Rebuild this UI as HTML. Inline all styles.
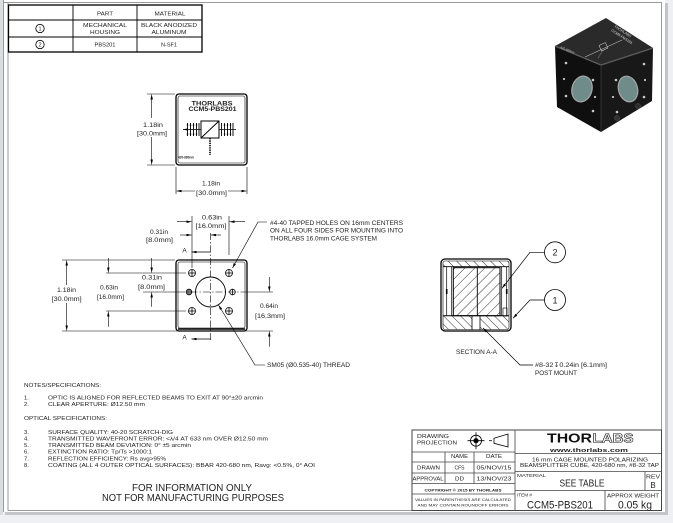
<!DOCTYPE html>
<html><head><meta charset="utf-8"><style>
html,body{margin:0;padding:0;background:#eef0f3;}
svg{display:block;}
text{font-family:"Liberation Sans","DejaVu Sans",sans-serif;fill:#222;}
</style></head><body>
<svg width="673" height="523" viewBox="0 0 673 523" xmlns="http://www.w3.org/2000/svg">
<defs>
<marker id="a" viewBox="0 0 8 4" refX="8" refY="2" markerWidth="5" markerHeight="2.5" markerUnits="userSpaceOnUse" orient="auto"><path d="M0,0L8,2L0,4z" fill="#000"/></marker>
<pattern id="hf" patternUnits="userSpaceOnUse" width="7" height="7" patternTransform="rotate(45)"><line x1="0" y1="0" x2="0" y2="7" stroke="#000" stroke-width="0.8"/></pattern>
<pattern id="hb" patternUnits="userSpaceOnUse" width="6" height="6" patternTransform="rotate(-45)"><line x1="0" y1="0" x2="0" y2="6" stroke="#000" stroke-width="0.8"/></pattern>
</defs>

<!-- page frame -->
<rect width="673" height="523" fill="#eef0f3"/>
<rect x="0" y="0" width="3" height="515" fill="#dcdde0"/>
<rect x="5" y="3" width="663" height="512" fill="#c4c5c8"/>
<rect x="3" y="0" width="662" height="512" fill="#fff"/>
<g stroke="#9a9a9a" stroke-width="1" fill="none">
<line x1="3" y1="2.5" x2="662" y2="2.5"/>
<line x1="3.5" y1="0" x2="3.5" y2="512"/>
<line x1="8" y1="2.5" x2="8" y2="510.5"/>
<line x1="661.5" y1="2.5" x2="661.5" y2="510.5"/>
<line x1="8" y1="510.5" x2="661.5" y2="510.5"/>
</g>

<!-- parts table -->
<g stroke="#000" fill="none">
<rect x="8.5" y="5" width="193.5" height="47" stroke-width="1.3"/>
<line x1="73" y1="5" x2="73" y2="52" stroke-width="0.9"/>
<line x1="137" y1="5" x2="137" y2="52" stroke-width="0.9"/>
<line x1="8.5" y1="20" x2="202" y2="20" stroke-width="0.9"/>
<line x1="8.5" y1="37" x2="202" y2="37" stroke-width="0.9"/>
<circle cx="40" cy="28.5" r="4.2" stroke-width="0.8"/>
<circle cx="40" cy="44.5" r="4.2" stroke-width="0.8"/>
</g>
<g font-size="5.8" text-anchor="middle">
<text x="105" y="15.5" textLength="16" lengthAdjust="spacingAndGlyphs">PART</text>
<text x="170" y="15.5" textLength="31" lengthAdjust="spacingAndGlyphs">MATERIAL</text>
<text x="105" y="27.2" textLength="44" lengthAdjust="spacingAndGlyphs">MECHANICAL</text>
<text x="105" y="33.9" textLength="30" lengthAdjust="spacingAndGlyphs">HOUSING</text>
<text x="169" y="27.2" textLength="56" lengthAdjust="spacingAndGlyphs">BLACK ANODIZED</text>
<text x="169" y="33.9" textLength="35" lengthAdjust="spacingAndGlyphs">ALUMINUM</text>
<text x="105" y="46.5" textLength="21" lengthAdjust="spacingAndGlyphs">PBS201</text>
<text x="169" y="46.5" textLength="16" lengthAdjust="spacingAndGlyphs">N-SF1</text>
<text x="40" y="30.6" font-size="5.5">1</text>
<text x="40" y="46.6" font-size="5.5">2</text>
</g>

<!-- TOP VIEW -->
<g stroke="#000" fill="none">
<rect x="176" y="94" width="71" height="71" rx="3" stroke-width="1.3"/>
<rect x="178" y="96" width="67" height="67" rx="2" stroke-width="0.6"/>
<rect x="201" y="121" width="18" height="17" stroke-width="1"/>
<line x1="201" y1="138" x2="219" y2="121" stroke-width="1"/>
<line x1="201" y1="129.5" x2="183" y2="129.5" stroke-width="0.8" marker-end="url(#a)"/>
<line x1="219" y1="129.5" x2="236" y2="129.5" stroke-width="0.8"/>
<g stroke-width="0.9">
<line x1="187.5" y1="123" x2="187.5" y2="136"/><line x1="190.5" y1="123" x2="190.5" y2="136"/><line x1="193.5" y1="123" x2="193.5" y2="136"/><line x1="196.5" y1="123" x2="196.5" y2="136"/><line x1="199" y1="123" x2="199" y2="136"/>
<line x1="221.5" y1="123" x2="221.5" y2="136"/><line x1="224.5" y1="123" x2="224.5" y2="136"/><line x1="227.5" y1="123" x2="227.5" y2="136"/><line x1="230.5" y1="123" x2="230.5" y2="136"/><line x1="233" y1="123" x2="233" y2="136"/>
</g>
<g fill="#000" stroke="none">
<circle cx="187.5" cy="125" r="0.8"/><circle cx="190.5" cy="125" r="0.8"/><circle cx="193.5" cy="125" r="0.8"/><circle cx="196.5" cy="125" r="0.8"/>
<circle cx="187.5" cy="134" r="0.8"/><circle cx="190.5" cy="134" r="0.8"/><circle cx="193.5" cy="134" r="0.8"/><circle cx="196.5" cy="134" r="0.8"/>
<circle cx="224.5" cy="125" r="0.8"/><circle cx="227.5" cy="125" r="0.8"/><circle cx="230.5" cy="125" r="0.8"/>
<circle cx="224.5" cy="134" r="0.8"/><circle cx="227.5" cy="134" r="0.8"/><circle cx="230.5" cy="134" r="0.8"/>
</g>
<line x1="210" y1="138" x2="210" y2="155" stroke-width="1.6" stroke-dasharray="1.4,0.9"/>
<!-- dims -->
<g stroke-width="0.6">
<line x1="147" y1="94" x2="175" y2="94"/>
<line x1="147" y1="165" x2="175" y2="165"/>
<line x1="151.7" y1="118" x2="151.7" y2="94.5" marker-end="url(#a)"/>
<line x1="151.7" y1="137" x2="151.7" y2="164.5" marker-end="url(#a)"/>
<line x1="176" y1="167" x2="176" y2="194"/>
<line x1="247" y1="167" x2="247" y2="194"/>
<line x1="195" y1="191" x2="176.5" y2="191" marker-end="url(#a)"/>
<line x1="228" y1="191" x2="246.5" y2="191" marker-end="url(#a)"/>
</g>
</g>
<text x="212" y="105.7" font-size="6.3" font-weight="bold" text-anchor="middle" textLength="41" lengthAdjust="spacingAndGlyphs">THORLABS</text>
<text x="212.5" y="111.2" font-size="6" font-weight="bold" text-anchor="middle" textLength="48" lengthAdjust="spacingAndGlyphs">CCM5-PBS201</text>
<text x="178" y="158.5" font-size="3.5" font-weight="bold" textLength="16" lengthAdjust="spacingAndGlyphs">420-680nm</text>
<g font-size="6.3" text-anchor="middle">
<text x="153" y="127.2" textLength="20" lengthAdjust="spacingAndGlyphs">1.18in</text>
<text x="152" y="135.5" textLength="30" lengthAdjust="spacingAndGlyphs">[30.0mm]</text>
<text x="211" y="185.5" textLength="18" lengthAdjust="spacingAndGlyphs">1.18in</text>
<text x="211.5" y="195" textLength="31" lengthAdjust="spacingAndGlyphs">[30.0mm]</text>
</g>

<!-- FRONT VIEW -->
<g stroke="#000" fill="none">
<rect x="176" y="260" width="71" height="71" rx="3" stroke-width="1.3"/>
<rect x="178" y="262" width="67" height="66" rx="2" stroke-width="0.6"/>
<line x1="178" y1="329" x2="245" y2="329" stroke-width="1.4"/>
<circle cx="210.5" cy="292" r="15" stroke-width="0.9"/>
<g stroke-width="0.8">
<circle cx="192" cy="273" r="3.5"/><line x1="188.5" y1="273" x2="195.5" y2="273"/><line x1="192" y1="269.5" x2="192" y2="276.5"/>
<circle cx="229" cy="273" r="3.5"/><line x1="225.5" y1="273" x2="232.5" y2="273"/><line x1="229" y1="269.5" x2="229" y2="276.5"/>
<circle cx="192" cy="311" r="3.5"/><line x1="188.5" y1="311" x2="195.5" y2="311"/><line x1="192" y1="307.5" x2="192" y2="314.5"/>
<circle cx="229" cy="311" r="3.5"/><line x1="225.5" y1="311" x2="232.5" y2="311"/><line x1="229" y1="307.5" x2="229" y2="314.5"/>
<circle cx="189" cy="292" r="2.8" fill="#777"/>
<circle cx="232.5" cy="292" r="2.8"/><line x1="232.5" y1="289.2" x2="232.5" y2="294.8"/>
</g>
<!-- centerlines -->
<line x1="210.5" y1="233" x2="210.5" y2="342" stroke-width="0.6" stroke-dasharray="7,2,1.5,2"/>
<line x1="143" y1="292" x2="178" y2="292" stroke-width="0.6"/>
<line x1="178" y1="292" x2="245" y2="292" stroke-width="0.6" stroke-dasharray="7,2,1.5,2"/>
<line x1="245" y1="292" x2="273" y2="292" stroke-width="0.6"/>
<!-- section arrows -->
<line x1="210.5" y1="252" x2="191.5" y2="252" stroke-width="0.8" marker-end="url(#a)"/>
<line x1="210.5" y1="339" x2="191.5" y2="339" stroke-width="0.8" marker-end="url(#a)"/>
<g stroke-width="0.6">
<!-- ext lines -->
<line x1="62" y1="260" x2="175" y2="260"/>
<line x1="62" y1="331" x2="273" y2="331"/>
<line x1="106" y1="273" x2="186" y2="273"/>
<line x1="106" y1="311" x2="186" y2="311"/>
<line x1="192" y1="216" x2="192" y2="268"/>
<line x1="229" y1="216" x2="229" y2="255"/>
<!-- dim lines -->
<line x1="66.7" y1="285" x2="66.7" y2="260.5" marker-end="url(#a)"/>
<line x1="66.7" y1="303" x2="66.7" y2="330.5" marker-end="url(#a)"/>
<line x1="108.3" y1="258" x2="108.3" y2="272.5" marker-end="url(#a)"/>
<line x1="108.3" y1="326.7" x2="108.3" y2="311.5" marker-end="url(#a)"/>
<line x1="151.7" y1="258" x2="151.7" y2="272.5" marker-end="url(#a)"/>
<line x1="151.7" y1="306.7" x2="151.7" y2="292.5" marker-end="url(#a)"/>
<line x1="269.3" y1="277" x2="269.3" y2="291.5" marker-end="url(#a)"/>
<line x1="269.3" y1="346.7" x2="269.3" y2="331.5" marker-end="url(#a)"/>
<line x1="177" y1="221.7" x2="191.5" y2="221.7" marker-end="url(#a)"/>
<line x1="245" y1="221.7" x2="229.5" y2="221.7" marker-end="url(#a)"/>
<line x1="180" y1="235" x2="191.5" y2="235" marker-end="url(#a)"/>
<line x1="221" y1="235" x2="211" y2="235" marker-end="url(#a)"/>
<!-- leaders -->
<polyline points="267,222 258,222 232.5,268" marker-end="url(#a)"/>
<polyline points="265,365 255,365 218.5,305" marker-end="url(#a)"/>
</g>
</g>
<g font-size="6.3" text-anchor="middle">
<text x="212" y="219.5" textLength="20" lengthAdjust="spacingAndGlyphs">0.63in</text>
<text x="211" y="228.2" textLength="31" lengthAdjust="spacingAndGlyphs">[16.0mm]</text>
<text x="159" y="234" textLength="18" lengthAdjust="spacingAndGlyphs">0.31in</text>
<text x="159.5" y="242.2" textLength="27" lengthAdjust="spacingAndGlyphs">[8.0mm]</text>
<text x="66.5" y="292.2" textLength="19" lengthAdjust="spacingAndGlyphs">1.18in</text>
<text x="66.7" y="301.2" textLength="30" lengthAdjust="spacingAndGlyphs">[30.0mm]</text>
<text x="109" y="289.5" textLength="18" lengthAdjust="spacingAndGlyphs">0.63in</text>
<text x="110.5" y="299" textLength="27" lengthAdjust="spacingAndGlyphs">[16.0mm]</text>
<text x="152" y="279.5" textLength="20" lengthAdjust="spacingAndGlyphs">0.31in</text>
<text x="151.5" y="289" textLength="27" lengthAdjust="spacingAndGlyphs">[8.0mm]</text>
<text x="269" y="308.2" textLength="18" lengthAdjust="spacingAndGlyphs">0.64in</text>
<text x="270" y="318.2" textLength="30" lengthAdjust="spacingAndGlyphs">[16.3mm]</text>
<text x="184.5" y="252.5" font-size="6.5">A</text>
<text x="184.5" y="339.5" font-size="6.5">A</text>
</g>
<g font-size="6">
<text x="270" y="225" textLength="133" lengthAdjust="spacingAndGlyphs">#4-40 TAPPED HOLES ON 16mm CENTERS</text>
<text x="270" y="232.5" textLength="133" lengthAdjust="spacingAndGlyphs">ON ALL FOUR SIDES FOR MOUNTING INTO</text>
<text x="270" y="240.5" textLength="107" lengthAdjust="spacingAndGlyphs">THORLABS 16.0mm CAGE SYSTEM</text>
<text x="267" y="367.2" textLength="83" lengthAdjust="spacingAndGlyphs">SM05 (Ø0.535-40) THREAD</text>
</g>

<!-- SECTION VIEW -->
<g stroke="#000" fill="none">
<rect x="443" y="261" width="66" height="6" fill="url(#hb)" stroke="none"/>
<rect x="443" y="316" width="66" height="13.5" fill="url(#hb)" stroke="none"/>
<rect x="472" y="316" width="8" height="14" fill="#fff" stroke="none"/>
<rect x="453.3" y="267.7" width="46.7" height="48" fill="url(#hf)" stroke-width="1"/>
<line x1="477.3" y1="267.7" x2="477.3" y2="315.7" stroke-width="0.9"/>
<rect x="441" y="259" width="70" height="72" rx="4" stroke-width="1.3"/>
<rect x="443" y="261" width="66" height="68.5" rx="2" stroke-width="0.6"/>
<line x1="443" y1="266.7" x2="509" y2="266.7" stroke-width="0.8"/>
<line x1="446.7" y1="266.7" x2="446.7" y2="316" stroke-width="0.7"/>
<line x1="451.7" y1="266.7" x2="451.7" y2="316" stroke-width="0.7"/>
<line x1="501.7" y1="266.7" x2="501.7" y2="316" stroke-width="0.7"/>
<line x1="506.7" y1="266.7" x2="506.7" y2="316" stroke-width="0.7"/>
<line x1="443" y1="315.7" x2="509" y2="315.7" stroke-width="1"/>
<line x1="472" y1="315.7" x2="472" y2="330" stroke-width="0.8"/>
<line x1="480" y1="315.7" x2="480" y2="330" stroke-width="0.8"/>
<rect x="503" y="308" width="4" height="8" stroke-width="0.6"/>
<line x1="446.7" y1="289" x2="446.7" y2="294" stroke-width="1.6"/>
<line x1="506.7" y1="289" x2="506.7" y2="294" stroke-width="1.6"/>
<circle cx="555" cy="252.3" r="10.5" stroke-width="0.8"/>
<circle cx="555" cy="300" r="10.5" stroke-width="0.8"/>
<g stroke-width="0.7">
<polyline points="544.5,252.3 530,252.3 502,288.3" marker-end="url(#a)"/>
<polyline points="544.5,300 530,300 513,318.3" marker-end="url(#a)"/>
<polyline points="533,365 520,365 483,328" marker-end="url(#a)"/>
</g>
</g>
<text x="555" y="255.6" font-size="9" text-anchor="middle">2</text>
<text x="555" y="303.3" font-size="9" text-anchor="middle">1</text>
<text x="456" y="354" font-size="6" textLength="41" lengthAdjust="spacingAndGlyphs">SECTION A-A</text>
<text x="535" y="367.2" font-size="6" textLength="72" lengthAdjust="spacingAndGlyphs">#8-32↧0.24in [6.1mm]</text>
<text x="535" y="375" font-size="6" textLength="42" lengthAdjust="spacingAndGlyphs">POST MOUNT</text>

<!-- ISO CUBE -->
<g>
<polygon points="606,18 653,48 601,65 555,46" fill="#2a2a2a"/>
<polygon points="555,46 601,65 601,132 557,107" fill="#0f0f0f"/>
<polygon points="601,65 653,48 652,101 601,132" fill="#181818"/>
<polyline points="555,46 601,65 653,48" fill="none" stroke="#5c5c5c" stroke-width="1.3"/>
<line x1="601" y1="65" x2="601" y2="132" stroke="#3a3a3a" stroke-width="0.8"/>
<ellipse cx="582" cy="89" rx="10" ry="13" transform="rotate(15 582 89)" fill="#6f8c8a" stroke="#a8a8a8" stroke-width="1.2"/>
<ellipse cx="628" cy="89" rx="9.5" ry="13" transform="rotate(-15 628 89)" fill="#6f8c8a" stroke="#a8a8a8" stroke-width="1.2"/>
<g fill="#c8c8c8">
<circle cx="566" cy="63" r="1.3"/><circle cx="593" cy="80" r="1.3"/><circle cx="564" cy="79" r="1.1"/>
<circle cx="566" cy="96" r="1.3"/><circle cx="595" cy="97" r="1.1"/><circle cx="593" cy="111" r="1.3"/>
<circle cx="616" cy="80" r="1.3"/><circle cx="644" cy="64" r="1.3"/><circle cx="613" cy="97" r="1.1"/>
<circle cx="644" cy="97" r="1.3"/><circle cx="645" cy="80" r="1.1"/><circle cx="617" cy="112" r="1.3"/>
</g>
<circle cx="617" cy="118" r="2.5" fill="#2e2e2e" stroke="#555" stroke-width="0.5"/>
<circle cx="638" cy="106" r="2.5" fill="#2e2e2e" stroke="#555" stroke-width="0.5"/>
<g stroke="#ddd" stroke-width="0.5" fill="none">
<line x1="585" y1="57" x2="622" y2="40"/>
<rect x="600" y="44" width="7" height="6" transform="rotate(-25 603 47)"/>
<line x1="603" y1="50" x2="598" y2="58" stroke-dasharray="1,0.7"/>
</g>
<text x="614" y="27" font-size="3.6" transform="rotate(33 614 27)" style="fill:#ddd">THORLABS</text>
<text x="611" y="31" font-size="3.6" transform="rotate(33 611 31)" style="fill:#ddd">CCM5-PBS201</text>
<text x="560" y="48" font-size="3" transform="rotate(22 560 48)" style="fill:#ccc">420-680nm</text>
</g>

<!-- NOTES -->
<g font-size="5.8">
<text x="24" y="387.2" textLength="77" lengthAdjust="spacingAndGlyphs">NOTES/SPECIFICATIONS:</text>
<text x="24" y="399.5">1.</text>
<text x="48" y="399.5" textLength="215" lengthAdjust="spacingAndGlyphs">OPTIC IS ALIGNED FOR REFLECTED BEAMS TO EXIT AT 90°±20 arcmin</text>
<text x="24" y="406.2">2.</text>
<text x="48" y="406.2" textLength="97" lengthAdjust="spacingAndGlyphs">CLEAR APERTURE: Ø12.50 mm</text>
<text x="24" y="420" textLength="83" lengthAdjust="spacingAndGlyphs">OPTICAL SPECIFICATIONS:</text>
<text x="24" y="434">3.</text>
<text x="48" y="434" textLength="125" lengthAdjust="spacingAndGlyphs">SURFACE QUALITY: 40-20 SCRATCH-DIG</text>
<text x="24" y="440.5">4.</text>
<text x="48" y="440.5" textLength="220" lengthAdjust="spacingAndGlyphs">TRANSMITTED WAVEFRONT ERROR: &lt;λ/4 AT 633 nm OVER Ø12.50 mm</text>
<text x="24" y="447">5.</text>
<text x="48" y="447" textLength="143" lengthAdjust="spacingAndGlyphs">TRANSMITTED BEAM DEVIATION: 0° ±5 arcmin</text>
<text x="24" y="453.7">6.</text>
<text x="48" y="453.7" textLength="104" lengthAdjust="spacingAndGlyphs">EXTINCTION RATIO: Tp/Ts &gt;1000:1</text>
<text x="24" y="460.4">7.</text>
<text x="48" y="460.4" textLength="118" lengthAdjust="spacingAndGlyphs">REFLECTION EFFICIENCY: Rs avg&gt;95%</text>
<text x="24" y="467">8.</text>
<text x="48" y="467" textLength="267" lengthAdjust="spacingAndGlyphs">COATING (ALL 4 OUTER OPTICAL SURFACES): BBAR 420-680 nm, Ravg: &lt;0.5%, 0° AOI</text>
</g>
<g font-size="10" text-anchor="middle">
<text x="192" y="491" textLength="120" lengthAdjust="spacingAndGlyphs">FOR INFORMATION ONLY</text>
<text x="193" y="501.2" textLength="182" lengthAdjust="spacingAndGlyphs">NOT FOR MANUFACTURING PURPOSES</text>
</g>

<!-- TITLE BLOCK -->
<g stroke="#444" fill="none" stroke-width="0.8">
<rect x="412" y="430" width="249.5" height="80.5" stroke-width="1"/>
<line x1="515" y1="430" x2="515" y2="510.5"/>
<line x1="412" y1="452" x2="515" y2="452"/>
<line x1="412" y1="462" x2="515" y2="462"/>
<line x1="412" y1="473" x2="515" y2="473"/>
<line x1="412" y1="483.5" x2="515" y2="483.5"/>
<line x1="412" y1="494" x2="515" y2="494"/>
<line x1="445" y1="452" x2="445" y2="483.5"/>
<line x1="474" y1="452" x2="474" y2="483.5"/>
<line x1="515" y1="453.5" x2="661.5" y2="453.5"/>
<line x1="515" y1="471.5" x2="661.5" y2="471.5"/>
<line x1="515" y1="490.5" x2="661.5" y2="490.5"/>
<line x1="645" y1="471.5" x2="645" y2="490.5"/>
<line x1="605" y1="490.5" x2="605" y2="510.5"/>
</g>
<!-- projection symbol -->
<g stroke="#000" fill="none" stroke-width="0.8">
<circle cx="476" cy="440.7" r="5.5"/>
<circle cx="476" cy="440.7" r="2.2" fill="#000"/>
<line x1="467.5" y1="440.7" x2="484.5" y2="440.7"/>
<line x1="476" y1="432.2" x2="476" y2="449.2"/>
<polygon points="494,438.3 508,434 508,447 494,443.3"/>
<line x1="489" y1="440.7" x2="492" y2="440.7"/>
</g>
<g font-size="5.2">
<text x="417" y="438" textLength="32" lengthAdjust="spacingAndGlyphs">DRAWING</text>
<text x="417" y="444.7" textLength="40" lengthAdjust="spacingAndGlyphs">PROJECTION</text>
</g>
<g font-size="5.2" text-anchor="middle">
<text x="459.5" y="458.2" textLength="17" lengthAdjust="spacingAndGlyphs">NAME</text>
<text x="494" y="458.2" textLength="16" lengthAdjust="spacingAndGlyphs">DATE</text>
<text x="428.5" y="469.5" textLength="23" lengthAdjust="spacingAndGlyphs">DRAWN</text>
<text x="459.5" y="469.5" textLength="10" lengthAdjust="spacingAndGlyphs">CFS</text>
<text x="494" y="469.5" textLength="35" lengthAdjust="spacingAndGlyphs">05/NOV/15</text>
<text x="428" y="480.5" textLength="31" lengthAdjust="spacingAndGlyphs">APPROVAL</text>
<text x="459.5" y="480.5" textLength="9" lengthAdjust="spacingAndGlyphs">DD</text>
<text x="494" y="480.5" textLength="35" lengthAdjust="spacingAndGlyphs">13/NOV/23</text>
<text x="463" y="491.5" font-size="4" font-weight="bold" textLength="77" lengthAdjust="spacingAndGlyphs">COPYRIGHT © 2015 BY THORLABS</text>
<text x="463" y="500.8" font-size="4" textLength="96" lengthAdjust="spacingAndGlyphs">VALUES IN PARENTHESIS ARE CALCULATED</text>
<text x="463" y="506.5" font-size="4" textLength="91" lengthAdjust="spacingAndGlyphs">AND MAY CONTAIN ROUNDOFF ERRORS</text>
</g>
<!-- logo -->
<text x="547" y="442.7" font-size="13" font-weight="bold" textLength="45" lengthAdjust="spacingAndGlyphs" style="fill:#111">THOR</text>
<text x="592.5" y="442.7" font-size="13" font-weight="bold" textLength="41" lengthAdjust="spacingAndGlyphs" style="fill:#fff;stroke:#222;stroke-width:0.6">LABS</text>
<text x="589" y="451.8" font-size="5.5" font-weight="bold" text-anchor="middle" textLength="78" lengthAdjust="spacingAndGlyphs">www.thorlabs.com</text>
<g text-anchor="middle">
<text x="590" y="461.3" font-size="5.8" textLength="116" lengthAdjust="spacingAndGlyphs">16 mm CAGE MOUNTED POLARIZING</text>
<text x="589.5" y="467.2" font-size="5.8" textLength="139" lengthAdjust="spacingAndGlyphs">BEAMSPLITTER CUBE, 420-680 nm, #8-32 TAP</text>
<text x="582" y="486.7" font-size="10" textLength="45" lengthAdjust="spacingAndGlyphs">SEE TABLE</text>
<text x="653" y="478.7" font-size="5" textLength="14" lengthAdjust="spacingAndGlyphs">REV</text>
<text x="653" y="488" font-size="8">B</text>
<text x="560" y="508.3" font-size="11" textLength="66" lengthAdjust="spacingAndGlyphs">CCM5-PBS201</text>
<text x="633" y="497.5" font-size="5" textLength="52" lengthAdjust="spacingAndGlyphs">APPROX WEIGHT</text>
<text x="635" y="508.3" font-size="11" textLength="34" lengthAdjust="spacingAndGlyphs">0.05 kg</text>
</g>
<text x="517" y="476.8" font-size="4.8" textLength="29" lengthAdjust="spacingAndGlyphs">MATERIAL</text>
<text x="517" y="496.5" font-size="4.8" textLength="15" lengthAdjust="spacingAndGlyphs">ITEM #</text>
</svg>
</body></html>
